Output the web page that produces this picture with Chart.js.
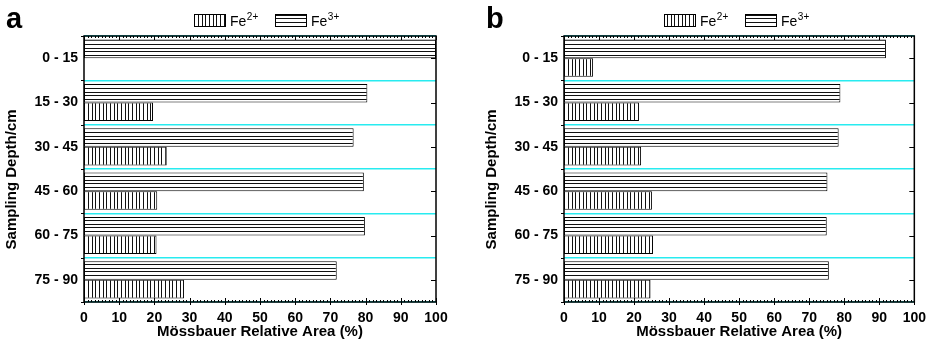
<!DOCTYPE html>
<html>
<head>
<meta charset="utf-8">
<script src="https://cdn.jsdelivr.net/npm/chart.js@4.4.1/dist/chart.umd.min.js"></script>
<style>
  html, body { margin: 0; padding: 0; background: #fff; overflow: hidden; }
  .panel { position: absolute; top: 0; }
</style>
</head>
<body>
<div class="panel" style="left:0"><canvas id="chartA" width="467" height="351"></canvas></div>
<div class="panel" style="left:480px"><canvas id="chartB" width="454" height="351"></canvas></div>
<script>
// depth intervals (cm), top to bottom
const categories = ['0 - 15', '15 - 30', '30 - 45', '45 - 60', '60 - 75', '75 - 90'];

// panel a
const fe2A = [0, 19.6, 23.5, 20.8, 20.6, 28.4];
const fe3A = [100, 80.5, 76.6, 79.5, 79.8, 71.8];

// panel b
const fe2B = [8.3, 21.4, 22.0, 25.1, 25.4, 24.7];
const fe3B = [91.9, 78.9, 78.4, 75.2, 75.0, 75.6];

const xMin = 0, xMax = 100, xStep = 10;
const FONT = "'Liberation Sans', Arial, sans-serif";

// striped fill, lines about 3.7px apart like the original hatching
function makePattern(ctx, vertical) {
    const c = document.createElement('canvas');
    c.width = 11; c.height = 11;
    const g = c.getContext('2d');
    g.fillStyle = '#fff';
    g.fillRect(0, 0, 11, 11);
    g.fillStyle = '#111';
    [0, 4, 7].forEach(p => vertical ? g.fillRect(p, 0, 1, 11) : g.fillRect(0, p, 11, 1));
    return ctx.createPattern(c, 'repeat');
}

// frame, inward ticks, panel letter and legend
const decorPlugin = {
    id: 'decor',
    afterDraw(chart, args, opts) {
        const ctx = chart.ctx;
        const a = chart.chartArea;
        const x = chart.scales.x, y = chart.scales.y;
        const half = (y.getPixelForValue(1) - y.getPixelForValue(0)) / 2;
        ctx.save();
        ctx.strokeStyle = '#000';
        ctx.lineWidth = 1;
        ctx.beginPath();
        // x ticks top & bottom
        for (let v = xMin; v <= xMax; v += 1) {
            const px = Math.round(x.getPixelForValue(v)) + 0.5;
            const len = v % 10 === 0 ? 4 : 2;
            ctx.moveTo(px, a.top); ctx.lineTo(px, a.top + len);
            ctx.moveTo(px, a.bottom); ctx.lineTo(px, a.bottom - len);
            if (v % 10 === 0) { ctx.moveTo(px, a.bottom); ctx.lineTo(px, a.bottom + 3); }
        }
        // left ticks at boundaries, right ticks at centres
        for (let i = 0; i < categories.length; i++) {
            const c = y.getPixelForValue(i);
            const b = Math.round(c - half) + 0.5;
            ctx.moveTo(a.left - 3, b); ctx.lineTo(a.left, b);
            const m = Math.round(c) + 0.5;
            ctx.moveTo(a.right - 5, m); ctx.lineTo(a.right, m);
        }
        ctx.moveTo(a.left - 3, Math.round(a.bottom) + 0.5); ctx.lineTo(a.left, Math.round(a.bottom) + 0.5);
        ctx.stroke();

        ctx.lineWidth = 1.5;
        ctx.strokeRect(a.left, a.top, a.right - a.left, a.bottom - a.top);

        // panel letter
        ctx.fillStyle = '#000';
        ctx.font = 'bold 29px ' + FONT;
        ctx.textBaseline = 'alphabetic';
        ctx.textAlign = 'left';
        ctx.fillText(opts.letter, 6, 28);

        // legend: Fe2+ then Fe3+
        const items = [
            { fill: chart.data.datasets[1].backgroundColor, sup: '2+' },
            { fill: chart.data.datasets[0].backgroundColor, sup: '3+' }
        ];
        let lx = opts.legendX;
        ctx.lineWidth = 1;
        items.forEach(it => {
            ctx.fillStyle = it.fill;
            ctx.fillRect(lx, 14, 31, 12);
            ctx.strokeRect(lx + 0.5, 14.5, 31, 12);
            ctx.fillStyle = '#000';
            ctx.font = '14px ' + FONT;
            ctx.fillText('Fe', lx + 36, 26);
            const w = ctx.measureText('Fe').width;
            ctx.font = '10px ' + FONT;
            ctx.fillText(it.sup, lx + 36 + w + 0.5, 20);
            lx += 81;
        });
        ctx.restore();
    }
};

function makeChart(id, letter, fe2, fe3, padRight, legendX) {
    const ctx = document.getElementById(id).getContext('2d');
    return new Chart(ctx, {
        type: 'bar',
        data: {
            labels: categories,
            datasets: [
                { label: 'Fe3+', data: fe3, backgroundColor: makePattern(ctx, false),
                  borderColor: '#000', borderWidth: 1, borderSkipped: false },
                { label: 'Fe2+', data: fe2, backgroundColor: makePattern(ctx, true),
                  borderColor: '#000', borderWidth: 1, borderSkipped: false }
            ]
        },
        options: {
            indexAxis: 'y',
            responsive: false,
            animation: false,
            categoryPercentage: 0.84,
            barPercentage: 1,
            layout: { padding: { top: 36, right: padRight, left: 0, bottom: 0 } },
            plugins: {
                legend: { display: false },
                tooltip: { enabled: false },
                decor: { letter: letter, legendX: legendX }
            },
            scales: {
                x: {
                    min: xMin, max: xMax,
                    grid: { display: false, drawTicks: false },
                    border: { display: false },
                    ticks: { stepSize: xStep, color: '#000', padding: 8,
                             font: { family: FONT, size: 14, weight: 'bold' } },
                    title: { display: true, text: 'Mössbauer Relative Area (%)', color: '#000',
                             font: { family: FONT, size: 15, weight: 'bold' },
                             padding: { top: 0, bottom: 10 } },
                    afterFit(scale) { scale.height = 49; }
                },
                y: {
                    offset: true,
                    grid: { offset: true, color: 'rgb(40,235,240)', lineWidth: 1.5, drawTicks: false },
                    border: { display: false },
                    ticks: { color: '#000', padding: 6,
                             font: { family: FONT, size: 14, weight: 'bold' } },
                    // trailing spaces push the rotated title a little lower, as in the original
                    title: { display: true, text: 'Sampling Depth/cm     ', color: '#000',
                             font: { family: FONT, size: 15, weight: 'bold' },
                             padding: { top: 3, bottom: 4 } },
                    afterFit(scale) { scale.width = 84; }
                }
            }
        },
        plugins: [decorPlugin]
    });
}

makeChart('chartA', 'a', fe2A, fe3A, 31, 194);
makeChart('chartB', 'b', fe2B, fe3B, 17, 184);
</script>
</body>
</html>
